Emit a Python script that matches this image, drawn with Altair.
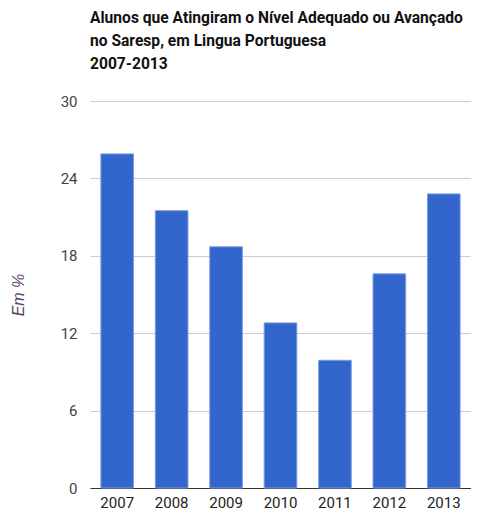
import altair as alt
import pandas as pd

years = ["2007", "2008", "2009", "2010", "2011", "2012", "2013"]
values = [25.9, 21.5, 18.7, 12.8, 9.9, 16.6, 22.8]
y_ticks = [0, 6, 12, 18, 24, 30]
title_lines = ["Alunos que Atingiram o Nível Adequado ou Avançado",
               "no Saresp, em Lingua Portuguesa", "2007-2013"]

df = pd.DataFrame({"ano": years, "valor": values})

FONT = "Roboto, Liberation Sans, sans-serif"

chart = alt.Chart(df).mark_bar(
    color="#3366CC", stroke="#7e9de3", strokeWidth=1
).encode(
    x=alt.X("ano:N", sort=years, title=None,
            scale=alt.Scale(paddingInner=0.4, paddingOuter=0.2),
            axis=alt.Axis(labelAngle=0, ticks=False, domainColor="#333333",
                          labelFont=FONT, labelFontSize=15, labelColor="#222222",
                          labelPadding=7)),
    y=alt.Y("valor:Q", title="Em %",
            scale=alt.Scale(domain=[0, 30], nice=False),
            axis=alt.Axis(values=y_ticks, ticks=False, domain=False,
                          gridColor="#cccccc", labelFont=FONT, labelFontSize=15,
                          labelColor="#444444", labelPadding=13,
                          titleFont="Liberation Sans, Arial, sans-serif",
                          titleFontStyle="italic", titleFontWeight="normal",
                          titleFontSize=16, titleColor="#5a3f66", titlePadding=34)),
).properties(
    width=381,
    height=387,
    padding={"left": 82, "top": 93, "right": 0, "bottom": 22},
    autosize=alt.AutoSizeParams(type="none"),
    title=alt.TitleParams(text=title_lines, anchor="start", frame="group",
                          font=FONT, fontSize=15.6, fontWeight="bold",
                          color="#111111", lineHeight=23, offset=21, dx=0),
).configure_view(stroke=None)

chart.save("out.html", embed_options={"renderer": "svg", "actions": False})
